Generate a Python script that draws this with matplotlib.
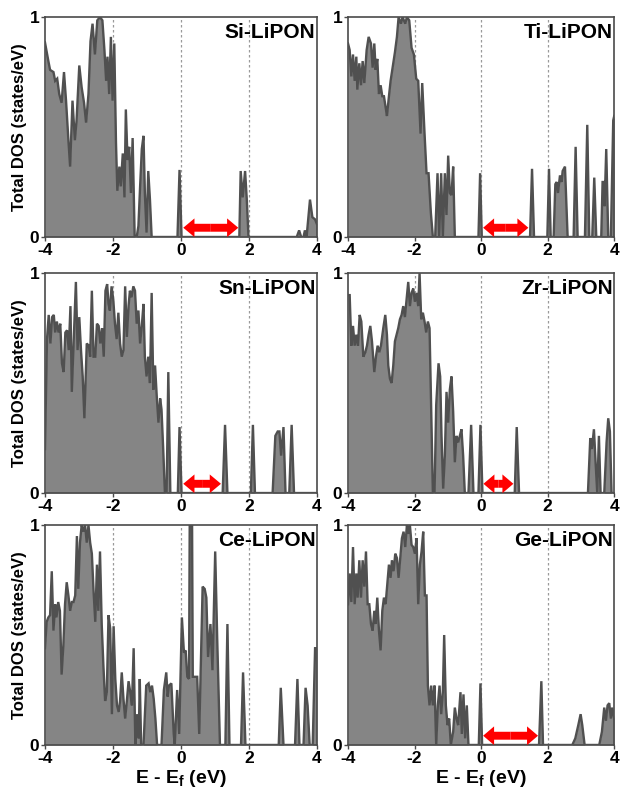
import matplotlib
matplotlib.use('Agg')
import matplotlib.pyplot as plt
import numpy as np

plt.rcParams['font.family'] = 'Liberation Sans'
plt.rcParams['font.weight'] = 'bold'
plt.rcParams['axes.unicode_minus'] = False
plt.rcParams['mathtext.fontset'] = 'custom'
plt.rcParams['mathtext.rm'] = 'Liberation Sans:bold'
plt.rcParams['mathtext.it'] = 'Liberation Sans:bold'
plt.rcParams['mathtext.bf'] = 'Liberation Sans:bold'

# ---- data (E - Ef in eV, total DOS in states/eV) ----
names = ['Si-LiPON', 'Ti-LiPON', 'Sn-LiPON', 'Zr-LiPON', 'Ce-LiPON', 'Ge-LiPON']

si_e = [-4.00, -3.90, -3.85, -3.75, -3.70, -3.64, -3.58, -3.51, -3.44, -3.38,
        -3.31, -3.26, -3.19, -3.12, -3.07, -2.99, -2.92, -2.85, -2.79, -2.72,
        -2.66, -2.60, -2.53, -2.46, -2.38, -2.31, -2.25, -2.20, -2.16, -2.11,
        -2.06, -2.01, -1.96, -1.91, -1.87, -1.81, -1.77, -1.71, -1.66, -1.62,
        -1.57, -1.52, -1.47, -1.42, -1.36, -1.30, -1.25, -1.20, -1.15, -1.10,
        -1.06, -1.01, -0.96, -0.91, -0.86, -0.10, -0.04, 0.02, 1.72, 1.76,
        1.82, 1.89, 1.94, 1.99, 3.41, 3.48, 3.54, 3.61, 3.65, 3.70,
        3.80, 3.87, 3.95, 4.00]
si_d = [0.885, 0.80, 0.76, 0.75, 0.71, 0.72, 0.65, 0.61, 0.75, 0.62,
        0.44, 0.32, 0.62, 0.44, 0.53, 0.78, 0.68, 0.61, 0.52, 0.65,
        0.89, 0.97, 0.83, 0.985, 1.0, 0.985, 0.85, 0.71, 0.82, 0.65,
        0.91, 0.62, 0.88, 0.43, 0.21, 0.32, 0.23, 0.38, 0.18, 0.58,
        0.35, 0.41, 0.20, 0.45, 0.0, 0.0, 0.05, 0.23, 0.40, 0.46,
        0.20, 0.02, 0.30, 0.17, 0.0, 0.0, 0.305, 0.0, 0.0, 0.30,
        0.18, 0.30, 0.17, 0.0, 0.0, 0.03, 0.0, 0.0, 0.03, 0.0,
        0.17, 0.09, 0.08, 0.06]

ti_e = [-4.00, -3.95, -3.90, -3.85, -3.80, -3.75, -3.72, -3.66, -3.61, -3.56,
        -3.51, -3.44, -3.38, -3.31, -3.26, -3.21, -3.17, -3.12, -3.07, -3.02,
        -2.97, -2.92, -2.87, -2.83, -2.77, -2.72, -2.66, -2.59, -2.53, -2.48,
        -2.41, -2.36, -2.28, -2.23, -2.16, -2.09, -2.02, -1.95, -1.89, -1.82,
        -1.77, -1.70, -1.64, -1.58, -1.51, -1.45, -1.38, -1.31, -1.26, -1.20,
        -1.15, -1.09, -1.04, -0.99, -0.94, -0.89, -0.84, -0.79, -0.08, -0.03,
        0.02, 1.47, 1.53, 1.59, 1.99, 2.04, 2.09, 2.18, 2.23, 2.27,
        2.31, 2.37, 2.42, 2.45, 2.52, 2.60, 2.78, 2.84, 2.90, 3.12,
        3.19, 3.25, 3.34, 3.40, 3.46, 3.61, 3.65, 3.69, 3.71, 3.76,
        3.82, 3.90, 3.97, 4.00]
ti_d = [0.88, 0.85, 0.73, 0.83, 0.71, 0.82, 0.67, 0.79, 0.69, 0.80,
        0.70, 0.85, 0.91, 0.88, 0.77, 0.88, 0.76, 0.81, 0.65, 0.69,
        0.64, 0.64, 0.59, 0.55, 0.64, 0.71, 0.77, 0.84, 0.91, 1.0,
        0.97, 1.0, 0.97, 1.0, 0.985, 0.86, 0.83, 0.72, 0.71, 0.47,
        0.70, 0.47, 0.29, 0.29, 0.11, 0.0, 0.0, 0.29, 0.0, 0.29,
        0.0, 0.29, 0.10, 0.37, 0.20, 0.19, 0.32, 0.0, 0.0, 0.29,
        0.0, 0.0, 0.31, 0.0, 0.0, 0.31, 0.0, 0.0, 0.24, 0.25,
        0.20, 0.28, 0.25, 0.30, 0.32, 0.0, 0.0, 0.41, 0.0, 0.0,
        0.51, 0.0, 0.0, 0.27, 0.0, 0.0, 0.25, 0.25, 0.14, 0.40,
        0.0, 0.0, 0.53, 0.55]

sn_e = [-4.00, -3.94, -3.89, -3.84, -3.79, -3.74, -3.70, -3.65, -3.60, -3.55,
        -3.50, -3.45, -3.40, -3.35, -3.30, -3.25, -3.21, -3.16, -3.09, -3.04,
        -2.99, -2.94, -2.89, -2.84, -2.77, -2.71, -2.67, -2.62, -2.57, -2.52,
        -2.47, -2.42, -2.37, -2.32, -2.27, -2.22, -2.17, -2.13, -2.09, -2.04,
        -1.99, -1.94, -1.89, -1.84, -1.79, -1.74, -1.69, -1.64, -1.59, -1.54,
        -1.50, -1.45, -1.40, -1.35, -1.30, -1.25, -1.20, -1.15, -1.10, -1.06,
        -1.01, -0.96, -0.91, -0.86, -0.81, -0.76, -0.71, -0.66, -0.61, -0.57,
        -0.52, -0.47, -0.42, -0.37, -0.31, -0.09, -0.04, 0.02, 1.23, 1.30,
        1.37, 2.06, 2.12, 2.18, 2.70, 2.78, 2.85, 2.90, 2.95, 3.02,
        3.08, 3.19, 3.26, 3.33, 4.00]
sn_d = [0.20, 0.70, 0.81, 0.68, 0.80, 0.81, 0.73, 0.78, 0.73, 0.77,
        0.59, 0.55, 0.73, 0.74, 0.65, 0.85, 0.46, 0.67, 0.96, 0.65,
        0.80, 0.65, 0.53, 0.34, 0.68, 0.67, 0.62, 0.92, 0.62, 0.62,
        0.77, 0.76, 0.68, 0.75, 0.62, 0.92, 0.95, 0.86, 0.83, 0.94,
        0.88, 0.77, 0.70, 0.82, 0.68, 0.62, 0.65, 0.94, 0.71, 0.85,
        0.92, 0.89, 0.94, 0.92, 0.77, 0.83, 0.68, 0.76, 0.86, 0.62,
        0.53, 0.62, 0.50, 0.91, 0.47, 0.58, 0.44, 0.32, 0.43, 0.38,
        0.20, 0.0, 0.0, 0.55, 0.0, 0.0, 0.30, 0.0, 0.0, 0.31,
        0.0, 0.0, 0.31, 0.0, 0.0, 0.26, 0.28, 0.28, 0.17, 0.30,
        0.0, 0.0, 0.31, 0.0, 0.0]

zr_e = [-4.00, -3.95, -3.90, -3.85, -3.80, -3.75, -3.70, -3.65, -3.60, -3.54,
        -3.48, -3.43, -3.38, -3.33, -3.28, -3.21, -3.16, -3.11, -3.06, -3.01,
        -2.94, -2.88, -2.83, -2.79, -2.74, -2.69, -2.64, -2.59, -2.54, -2.49,
        -2.44, -2.39, -2.34, -2.29, -2.24, -2.19, -2.14, -2.09, -2.04, -1.99,
        -1.94, -1.89, -1.85, -1.80, -1.75, -1.70, -1.65, -1.60, -1.55, -1.50,
        -1.45, -1.40, -1.35, -1.28, -1.23, -1.19, -1.14, -1.09, -1.04, -0.99,
        -0.94, -0.89, -0.84, -0.79, -0.74, -0.69, -0.64, -0.59, -0.54, -0.49,
        -0.38, -0.30, -0.23, -0.08, -0.02, 0.04, 1.01, 1.07, 1.14, 3.21,
        3.28, 3.33, 3.39, 3.44, 3.49, 3.54, 3.59, 3.70, 3.77, 3.82,
        3.87, 3.92, 4.00]
zr_d = [0.90, 0.90, 0.67, 0.76, 0.67, 0.72, 0.67, 0.81, 0.78, 0.62,
        0.64, 0.67, 0.72, 0.76, 0.69, 0.55, 0.62, 0.67, 0.64, 0.67,
        0.75, 0.81, 0.72, 0.58, 0.52, 0.50, 0.58, 0.69, 0.72, 0.75,
        0.79, 0.81, 0.85, 0.80, 0.88, 0.96, 0.85, 0.91, 0.93, 0.87,
        0.91, 0.85, 1.0, 0.79, 0.82, 0.78, 0.73, 0.78, 0.75, 0.38,
        0.0, 0.0, 0.40, 0.59, 0.53, 0.26, 0.02, 0.17, 0.46, 0.32,
        0.47, 0.53, 0.37, 0.14, 0.26, 0.23, 0.26, 0.29, 0.17, 0.0,
        0.0, 0.31, 0.0, 0.0, 0.31, 0.0, 0.0, 0.30, 0.0, 0.0,
        0.25, 0.20, 0.29, 0.14, 0.0, 0.26, 0.0, 0.0, 0.23, 0.34,
        0.28, 0.0, 0.0]

ce_e = [-4.00, -3.95, -3.90, -3.85, -3.80, -3.75, -3.70, -3.66, -3.61, -3.56,
        -3.51, -3.46, -3.41, -3.36, -3.31, -3.26, -3.21, -3.16, -3.11, -3.06,
        -3.02, -2.97, -2.92, -2.87, -2.82, -2.77, -2.72, -2.67, -2.62, -2.57,
        -2.52, -2.47, -2.43, -2.38, -2.33, -2.28, -2.23, -2.18, -2.13, -2.08,
        -2.03, -1.98, -1.93, -1.88, -1.83, -1.79, -1.74, -1.69, -1.64, -1.59,
        -1.54, -1.49, -1.44, -1.39, -1.34, -1.29, -1.24, -1.21, -1.17, -1.10,
        -1.02, -0.95, -0.90, -0.85, -0.80, -0.75, -0.70, -0.57,
        -0.50, -0.43, -0.39, -0.35, -0.28, -0.21, -0.18, -0.11, -0.05, 0.03,
        0.09, 0.14, 0.19, 0.24, 0.26, 0.33, 0.35, 0.48, 0.54, 0.64,
        0.70, 0.75, 0.80, 0.87, 0.93, 1.01, 1.07, 1.15, 1.31, 1.37,
        1.43, 1.77, 1.83, 1.90,
        2.88, 2.94, 3.02, 3.36, 3.43, 3.49, 3.61, 3.67, 3.73, 3.79,
        3.88, 3.95, 4.00]
ce_d = [0.44, 0.56, 0.58, 0.59, 0.79, 0.52, 0.64, 0.58, 0.65, 0.61,
        0.32, 0.45, 0.64, 0.74, 0.68, 0.61, 0.65, 0.65, 0.68, 0.95,
        0.71, 0.92, 1.0, 0.97, 1.0, 0.92, 1.0, 0.92, 0.87, 0.70,
        0.56, 0.82, 0.61, 0.88, 0.55, 0.36, 0.20, 0.24, 0.59, 0.53,
        0.14, 0.54, 0.30, 0.18, 0.15, 0.20, 0.33, 0.21, 0.12, 0.20,
        0.29, 0.24, 0.18, 0.44, 0.0, 0.14, 0.03, 0.30, 0.0, 0.0,
        0.27, 0.28, 0.24, 0.27, 0.21, 0.12, 0.0, 0.0,
        0.25, 0.33, 0.22, 0.27, 0.28, 0.05, 0.0, 0.25, 0.05, 0.58,
        0.42, 0.43, 0.31, 0.30, 1.0, 1.0, 0.31, 0.31, 0.05, 0.72,
        0.71, 0.67, 0.40, 0.55, 0.34, 0.88, 0.48, 0.0, 0.0, 0.55,
        0.0, 0.0, 0.33, 0.0,
        0.0, 0.26, 0.0, 0.0, 0.30, 0.0, 0.0, 0.26, 0.18, 0.0,
        0.0, 0.44, 0.44]

ge_e = [-4.00, -3.95, -3.90, -3.85, -3.80, -3.75, -3.71, -3.66, -3.61, -3.56,
        -3.51, -3.46, -3.41, -3.36, -3.31, -3.26, -3.21, -3.17, -3.12, -3.07,
        -3.02, -2.97, -2.92, -2.87, -2.82, -2.77, -2.72, -2.68, -2.63, -2.58,
        -2.53, -2.48, -2.43, -2.38, -2.33, -2.28, -2.23, -2.18, -2.14, -2.09,
        -2.04, -1.99, -1.94, -1.89, -1.84, -1.79, -1.74, -1.69, -1.64, -1.60,
        -1.55, -1.50, -1.45, -1.40, -1.35, -1.30, -1.25, -1.20, -1.15, -1.11,
        -1.06, -1.01, -0.96, -0.91, -0.84, -0.79, -0.74, -0.69, -0.62, -0.58,
        -0.53, -0.48, -0.43, -0.38, -0.07, -0.02, 0.03, 1.74, 1.81, 1.86,
        2.74, 2.83, 2.92, 2.99, 3.04, 3.11, 3.55, 3.63, 3.70, 3.75,
        3.80, 3.85, 3.90, 3.94, 4.00]
ge_d = [0.64, 0.78, 0.65, 0.90, 0.64, 0.78, 0.67, 0.84, 0.67, 0.84,
        0.72, 0.88, 0.64, 0.64, 0.55, 0.52, 0.61, 0.55, 0.67, 0.52,
        0.43, 0.61, 0.67, 0.64, 0.73, 0.82, 0.76, 0.84, 0.79, 0.87,
        0.85, 0.76, 0.85, 0.94, 0.97, 0.90, 1.0, 0.96, 1.0, 0.91,
        0.90, 0.87, 0.94, 0.64, 0.82, 0.88, 0.97, 0.68, 0.68, 0.27,
        0.18, 0.27, 0.18, 0.27, 0.0, 0.18, 0.27, 0.14, 0.24, 0.50,
        0.18, 0.09, 0.12, 0.0, 0.06, 0.17, 0.12, 0.09, 0.24, 0.05,
        0.23, 0.03, 0.18, 0.0, 0.0, 0.28, 0.0, 0.0, 0.29, 0.0,
        0.0, 0.03, 0.09, 0.14, 0.09, 0.0, 0.0, 0.06, 0.17, 0.11,
        0.18, 0.19, 0.12, 0.17, 0.12]

energies = [si_e, ti_e, sn_e, zr_e, ce_e, ge_e]
dos = [si_d, ti_d, sn_d, zr_d, ce_d, ge_d]

# band-gap arrows (eV); Ce has none
gap_lo = [0.07, 0.06, 0.07, 0.07, None, 0.06]
gap_hi = [1.69, 1.42, 1.18, 0.97, None, 1.71]
arrow_y = 0.042

xticks = [-4, -2, 0, 2, 4]
guides = [-2, 0, 2]

fill_c = '#858585'
line_c = '#505050'
frame_c = '#4a4a4a'

fig = plt.figure(figsize=(6.22, 7.91), dpi=100)
lefts = [0.0723, 0.5595]
widths = [0.437, 0.428]
bottoms = [0.7004, 0.3767, 0.0582]
h = 0.278


def gap_arrow(ax, x0, x1, y):
    # double headed arrow made of two halves meeting in the middle
    mid = 0.5 * (x0 + x1)
    for end in (x0, x1):
        ax.arrow(mid, y, end - mid, 0, width=0.036, head_width=0.085,
                 head_length=0.33, length_includes_head=True,
                 fc='red', ec='none', lw=0, zorder=5)


for i in range(6):
    r, c = divmod(i, 2)
    ax = fig.add_axes([lefts[c], bottoms[r], widths[c], h])
    e = np.array(energies[i])
    d = np.array(dos[i])

    for g in guides:
        ax.axvline(g, color='#9a9a9a', lw=0.9, ls=(0, (2, 2)), zorder=1)
    ax.fill_between(e, 0, d, color=fill_c, lw=0, zorder=2)
    ax.plot(e, d, color=line_c, lw=1.7, zorder=3, solid_joinstyle='miter')

    if gap_lo[i] is not None:
        gap_arrow(ax, gap_lo[i], gap_hi[i], arrow_y)

    ax.set_xlim(-4, 4)
    ax.set_ylim(0, 1)
    ax.set_xticks(xticks)
    ax.set_xticklabels([str(t) for t in xticks])
    ax.set_yticks([0, 1])
    ax.set_yticklabels(['0', '1'])
    ax.tick_params(axis='both', direction='out', length=3, width=1,
                   color=frame_c, labelsize=12.5, pad=1)
    for s in ax.spines.values():
        s.set_color(frame_c)
        s.set_linewidth(1.2)

    ax.text(0.995, 0.975, names[i], transform=ax.transAxes, ha='right',
            va='top', fontsize=15, fontweight='bold', zorder=6)

    if c == 0:
        ax.set_ylabel('Total DOS (states/eV)', fontsize=12, fontweight='bold',
                      labelpad=2)
    if r == 2:
        ax.set_xlabel(r'E - E$_\mathregular{f}$ (eV)', fontsize=14,
                      fontweight='bold', labelpad=2)

fig.savefig('out.png', dpi=100, facecolor='white')
